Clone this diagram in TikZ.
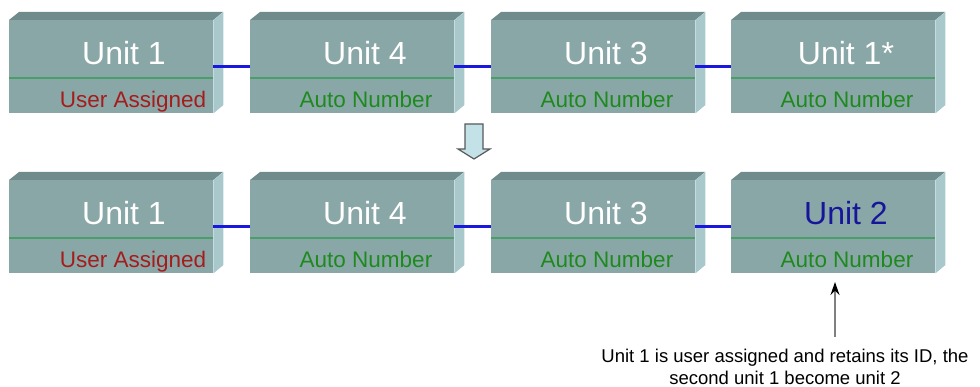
\documentclass[tikz,border=0pt]{standalone}
\usepackage{fontspec}
\setmainfont{Liberation Sans}
\usetikzlibrary{arrows.meta}
\definecolor{frontcol}{HTML}{8AA7A8}
\definecolor{topcol}{HTML}{6F8B8C}
\definecolor{sidecol}{HTML}{A9C8CC}
\definecolor{rulecol}{HTML}{4A9E6A}
\definecolor{userred}{HTML}{A51C1C}
\definecolor{autogreen}{HTML}{1E8A1E}
\definecolor{newblue}{HTML}{16169A}
\definecolor{linkblue}{HTML}{1818E0}
\definecolor{arrowfill}{HTML}{C2E2E8}
\tikzset{
  unitbox/.style={fill=frontcol, minimum width=204pt, minimum height=93pt, inner sep=0pt, anchor=north west},
  unitlabel/.style={anchor=base, inner sep=0pt, font=\fontsize{32}{38}\selectfont},
  sublabel/.style={anchor=base, inner sep=0pt, font=\fontsize{22.5}{26}\selectfont},
  link/.style={linkblue, line width=2.5pt},
  pointer/.style={draw=gray, line width=1.5pt, -{Stealth[length=13pt,width=9pt,color=black]}},
}
\begin{document}
\begin{tikzpicture}[x=1pt,y=-1pt]
  \useasboundingbox (0,0) rectangle (980,387);
  % unit boxes, top row u, bottom row v
  \foreach \n/\x/\y/\name/\namecol/\sub/\subcol/\subx in {
      u1/9/20/Unit 1/white/User Assigned/userred/124,
      u2/250/20/Unit 4/white/Auto Number/autogreen/116,
      u3/491/20/Unit 3/white/Auto Number/autogreen/116,
      u4/731/20/Unit 1*/white/Auto Number/autogreen/116,
      v1/9/180/Unit 1/white/User Assigned/userred/124,
      v2/250/180/Unit 4/white/Auto Number/autogreen/116,
      v3/491/180/Unit 3/white/Auto Number/autogreen/116,
      v4/731/180/Unit 2/newblue/Auto Number/autogreen/116}{
    \node[unitbox] (\n) at (\x,\y) {};
    \fill[topcol] (\n.north west) -- ++(10,-8) -- ++(204,0) -- (\n.north east) -- cycle;
    \fill[sidecol] (\n.north east) -- ++(10,-8) -- ++(0,93) -- (\n.south east) -- cycle;
    \draw[rulecol, line width=1.2pt] (\x,\y+58) -- (\x+204,\y+58);
    \node[unitlabel, text=\namecol] (\n name) at (\x+115,\y+45) {\name};
    \node[sublabel, text=\subcol] (\n sub) at (\x+\subx,\y+88) {\sub};
  }
  \draw[link] (u1.east) -- (u2.west);
  \draw[link] (u2.east) -- (u3.west);
  \draw[link] (u3.east) -- (u4.west);
  \draw[link] (v1.east) -- (v2.west);
  \draw[link] (v2.east) -- (v3.west);
  \draw[link] (v3.east) -- (v4.west);
  % down arrow between rows
  \draw[fill=arrowfill, draw=black!65, line width=1.2pt, line join=miter]
    (465,124) -- (483,124) -- (483,149) -- (490,149) -- (474,159) -- (458,149) -- (465,149) -- cycle;
  % note
  \node[align=center, font=\fontsize{18.5}{22}\selectfont, anchor=north, inner sep=0pt] (note) at (785,349)
    {Unit 1 is user assigned and retains its ID, the\\second unit 1 become unit 2};
  \coordinate (tip) at (835,282);
  \draw[pointer] (tip |- note.north) ++(0,-12) -- (tip);
\end{tikzpicture}
\end{document}
